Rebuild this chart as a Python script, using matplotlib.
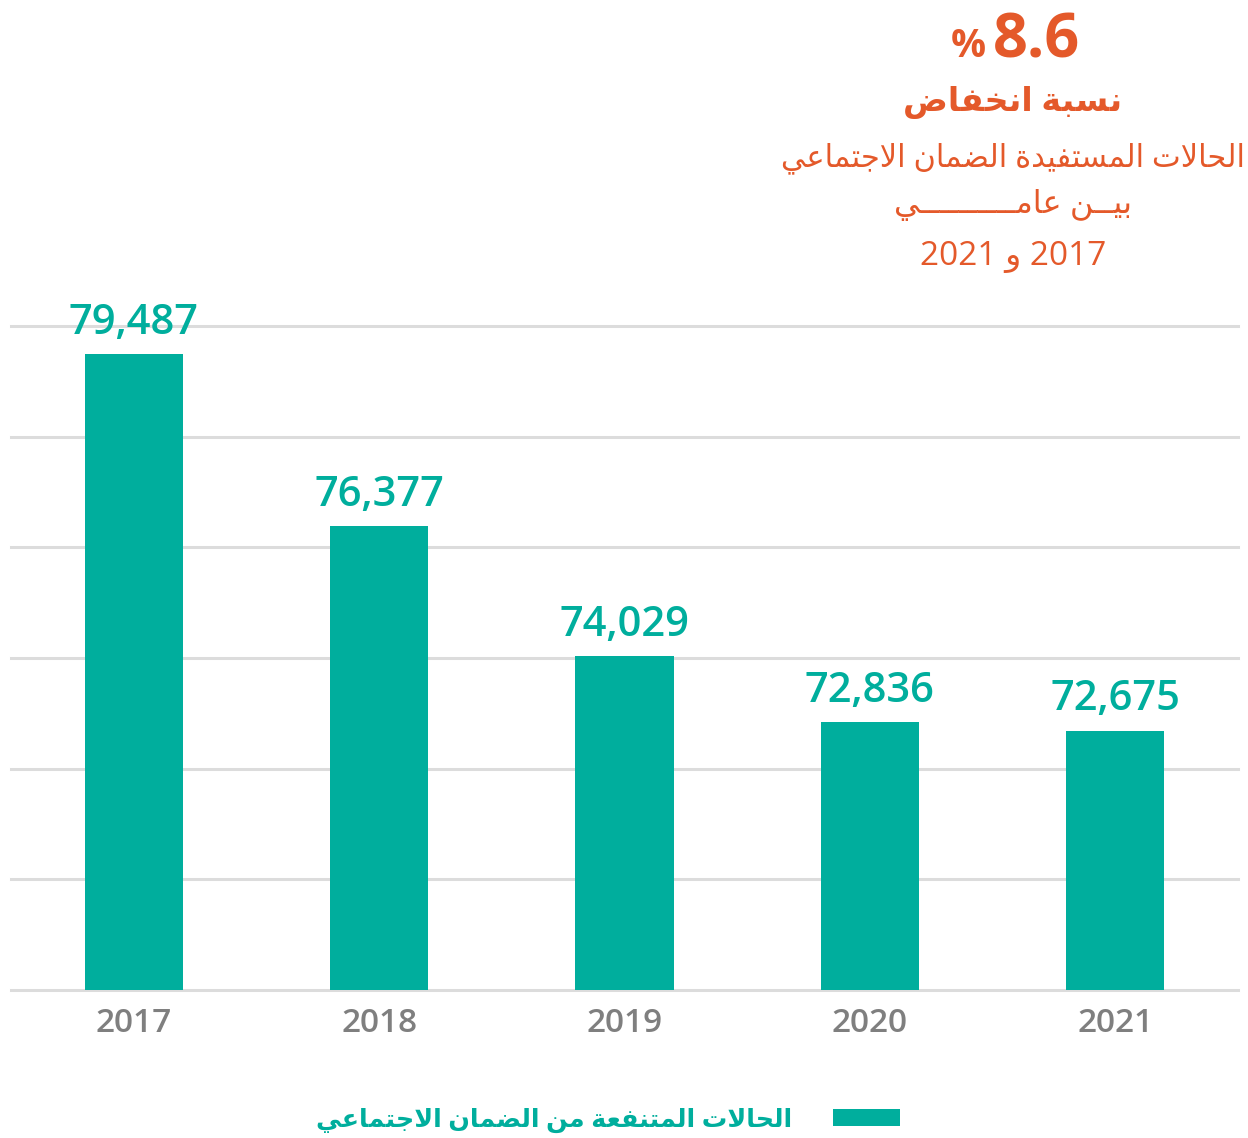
import numpy as np
import matplotlib
matplotlib.use("Agg")
import matplotlib.pyplot as plt
from matplotlib.font_manager import FontProperties

# ---------------- data ----------------
years = ["2017", "2018", "2019", "2020", "2021"]
cases = [79487, 76377, 74029, 72836, 72675]
value_labels = ["79,487", "76,377", "74,029", "72,836", "72,675"]
y_ticks = [68000, 70000, 72000, 74000, 76000, 78000, 80000]
legend_label = "الحالات المتنفعة من الضمان الاجتماعي"
headline_value = "8.6"
headline_pct = "%"
title_line2 = "نسبة انخفاض"
title_line3 = "الحالات المستفيدة الضمان الاجتماعي"
title_line4_a = "بيــن"
title_line4_b = "عامــــــــــي"
title_conj = "و"

TEAL = "#00AE9D"
ORANGE = "#E4592A"
GRAY = "#7f7f7f"
GRID = "#dcdcdc"

# ---------------- Arabic shaping (presentation forms + RTL) ----------------
_T = {
    'ا': (0xFE8D, 'R'), 'ب': (0xFE8F, 'D'), 'ة': (0xFE93, 'R'), 'ت': (0xFE95, 'D'),
    'ث': (0xFE99, 'D'), 'ج': (0xFE9D, 'D'), 'ح': (0xFEA1, 'D'), 'خ': (0xFEA5, 'D'),
    'د': (0xFEA9, 'R'), 'ذ': (0xFEAB, 'R'), 'ر': (0xFEAD, 'R'), 'ز': (0xFEAF, 'R'),
    'س': (0xFEB1, 'D'), 'ش': (0xFEB5, 'D'), 'ص': (0xFEB9, 'D'), 'ض': (0xFEBD, 'D'),
    'ط': (0xFEC1, 'D'), 'ظ': (0xFEC5, 'D'), 'ع': (0xFEC9, 'D'), 'غ': (0xFECD, 'D'),
    'ف': (0xFED1, 'D'), 'ق': (0xFED5, 'D'), 'ك': (0xFED9, 'D'), 'ل': (0xFEDD, 'D'),
    'م': (0xFEE1, 'D'), 'ن': (0xFEE5, 'D'), 'ه': (0xFEE9, 'D'), 'و': (0xFEED, 'R'),
    'ى': (0xFEEF, 'R'), 'ي': (0xFEF1, 'D'), 'ـ': (None, 'T'),
}


def _jn(c):
    return c in _T and _T[c][1] in ('D', 'T')


def shape(s):
    out = []
    i = 0
    n = len(s)
    while i < n:
        c = s[i]
        if c not in _T:
            out.append(c)
            i += 1
            continue
        pc = i > 0 and _jn(s[i - 1])
        if c == 'ل' and i + 1 < n and s[i + 1] == 'ا':
            out.append(chr(0xFEFC if pc else 0xFEFB))
            i += 2
            continue
        nc = _jn(c) and i + 1 < n and s[i + 1] in _T
        base, t = _T[c]
        if t == 'T':
            out.append(c)
        elif t == 'R':
            out.append(chr(base + 1 if pc else base))
        else:
            out.append(chr(base + (3 if pc and nc else 1 if pc else 2 if nc else 0)))
        i += 1
    return ''.join(reversed(out))


FAM = ['Open Sans', 'DejaVu Sans']
plt.rcParams['font.family'] = FAM

W, H = 1248, 1138
fig = plt.figure(figsize=(W / 100, H / 100), dpi=100)


def fx(px):
    return px / W


def fy(py):
    return 1 - py / H


ax = fig.add_axes([fx(11), fy(990), fx(1238) - fx(11), fy(326) - fy(990)])
ax.patch.set_visible(False)
x = np.arange(len(years))
bars = ax.bar(x, cases, width=0.4, color=TEAL, zorder=3, label=shape(legend_label))
ax.set_xlim(-0.5, 4.5)
ax.set_ylim(y_ticks[0], y_ticks[-1])
ax.set_yticks(y_ticks)
ax.yaxis.grid(True, color=GRID, linewidth=2.2, zorder=0)
for gl in ax.get_ygridlines():
    gl.set_clip_on(False)
ax.set_axisbelow(True)
for sp in ax.spines.values():
    sp.set_visible(False)
ax.tick_params(axis='y', length=0, labelleft=False)
ax.set_xticks(x)
ax.set_xticklabels(years, fontsize=24, color=GRAY, fontweight='semibold')
ax.tick_params(axis='x', length=0, pad=12)

for xi, v, lab in zip(x, cases, value_labels):
    ax.annotate(lab, (xi, v), xytext=(0, 15), textcoords='offset points',
                ha='center', va='baseline', fontsize=30, color=TEAL,
                fontweight='semibold', annotation_clip=False)

# ---------------- headline block ----------------
cx = 1013
fig.text(fx(1080), fy(57), headline_value, ha='right', va='baseline',
         fontsize=44, fontweight='bold', color=ORANGE)
fig.text(fx(986), fy(57), headline_pct, ha='right', va='baseline',
         fontsize=28, fontweight='bold', color=ORANGE)
fig.text(fx(cx), fy(111), shape(title_line2), ha='center', va='baseline',
         fontsize=24, fontweight='bold', color=ORANGE)
fig.text(fx(cx), fy(166), shape(title_line3), ha='center', va='baseline',
         fontsize=22, color=ORANGE)
fig.text(fx(cx), fy(213), shape(title_line4_b) + " " + shape(title_line4_a),
         ha='center', va='baseline', fontsize=23, color=ORANGE)
fig.text(fx(cx), fy(265), years[-1] + " " + shape(title_conj) + " " + years[0],
         ha='center', va='baseline', fontsize=24, color=ORANGE)

# ---------------- legend ----------------
fig.legend(handles=[bars], loc='center', bbox_to_anchor=(fx(608), fy(1120)),
           frameon=False, markerfirst=False,
           prop=FontProperties(family=FAM, weight='bold', size=18.3),
           handlelength=2.65, handleheight=0.62, handletextpad=1.6,
           labelcolor=TEAL)

fig.savefig("out.png", dpi=100)
